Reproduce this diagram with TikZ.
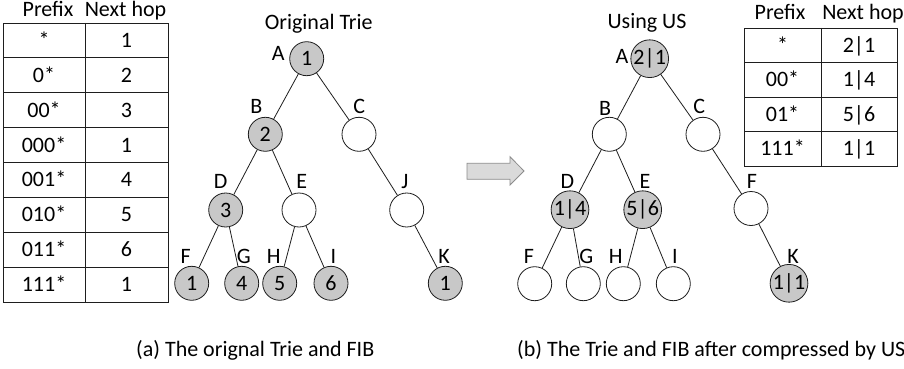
\documentclass[tikz,border=0pt]{standalone}
\usepackage{fontspec}
\setmainfont{Carlito}
\newcommand\myfs{\fontsize{22}{26}\selectfont}
\definecolor{nodegray}{RGB}{200,200,200}
\definecolor{arrowfill}{RGB}{218,218,218}
\definecolor{arrowdraw}{RGB}{140,140,140}
\definecolor{linec}{RGB}{30,30,30}
\tikzset{
  tn/.style={circle, draw=linec, line width=0.8pt, minimum size=34pt, inner sep=0pt, font=\myfs, text=black},
  tfill/.style={tn, fill=nodegray},
  lbl/.style={font=\myfs, inner sep=0pt, text=black},
  txt/.style={font=\myfs, inner sep=0pt, anchor=base, text=black},
  edge/.style={draw=linec, line width=0.8pt},
  tab/.style={draw=linec, line width=0.9pt}
}
\begin{document}
\begin{tikzpicture}[x=1pt,y=-1pt]
\clip (0,0) rectangle (904,369);
\fill[white] (0,0) rectangle (904,369);

% ---------- left table ----------
\node[txt] (lhp) at (48,17) {Prefix};
\node[txt] (lhn) at (125.5,17) {Next hop};
\draw[tab] (3,23) rectangle (168,302);
\draw[tab] (85,23) -- (85,302);
\foreach \k in {1,...,7} { \draw[tab] (3,{23+34.875*\k}) -- (168,{23+34.875*\k}); }
\foreach \p/\h [count=\i] in {*/1, 0*/2, 00*/3, 000*/1, 001*/4, 010*/5, 011*/6, 111*/1} {
  \node[txt] (lp\i) at (44,{23+34.875*(\i-0.5)+7}) {\p};
  \node[txt] (lh\i) at (126.5,{23+34.875*(\i-0.5)+7}) {\h};
}

% ---------- original trie ----------
\node[txt] (t1) at (318.7,30) {Original Trie};
\node[tfill] (A) at (306.7,58.7) {1};
\node[tfill] (B) at (265.3,134.3) {2};
\node[tn] (C) at (359,134.3) {};
\node[tfill] (D) at (225.7,210) {3};
\node[tn] (E) at (299,210) {};
\node[tn] (J) at (406.7,210) {};
\node[tfill] (F) at (191.7,283.3) {1};
\node[tfill] (G) at (241.7,283.3) {4};
\node[tfill] (H) at (279.7,283.3) {5};
\node[tfill] (I) at (331,283.3) {6};
\node[tfill] (K) at (445.3,283.3) {1};
\node[lbl] (lA) at (278.3,53.3) {A};
\node[lbl] (lB) at (256.3,106.7) {B};
\node[lbl] (lC) at (359.3,106.7) {C};
\node[lbl] (lD) at (220.7,181.7) {D};
\node[lbl] (lE) at (301.7,181.7) {E};
\node[lbl] (lJ) at (405,181.7) {J};
\node[lbl] (lF) at (185.7,256.7) {F};
\node[lbl] (lG) at (243.7,256.7) {G};
\node[lbl] (lH) at (273.7,256.7) {H};
\node[lbl] (lI) at (333.3,256.7) {I};
\node[lbl] (lK) at (444,256.7) {K};
\draw[edge] (A) -- (B); \draw[edge] (A) -- (C);
\draw[edge] (B) -- (D); \draw[edge] (B) -- (E);
\draw[edge] (C) -- (J);
\draw[edge] (D) -- (F); \draw[edge] (D) -- (G);
\draw[edge] (E) -- (H); \draw[edge] (E) -- (I);
\draw[edge] (J) -- (K);

% ---------- block arrow ----------
\draw[fill=arrowfill, draw=arrowdraw, line width=0.8pt]
  (467,163.3) -- (510,163.3) -- (510,156.7) -- (524,171) -- (510,185) -- (510,179.3) -- (467,179.3) -- cycle;

% ---------- trie using US ----------
\node[txt] (t2) at (647,29) {Using US};
\node[tfill] (RA) at (649.7,58.7) {2|1};
\node[tn] (RB) at (609.3,134.3) {};
\node[tn] (RC) at (703,134.3) {};
\node[tfill] (RD) at (570,209.7) {1|4};
\node[tfill] (RE) at (642.7,209.7) {5|6};
\node[tn] (RFm) at (751,208.5) {};
\node[tn] (RF) at (534.7,283.7) {};
\node[tn] (RG) at (583.3,283.7) {};
\node[tn] (RH) at (623.3,283.7) {};
\node[tn] (RI) at (673.3,283.7) {};
\node[tfill] (RK) at (789,283.3) {1|1};
\node[lbl] (rlA) at (622,56.7) {A};
\node[lbl] (rlB) at (605,108.3) {B};
\node[lbl] (rlC) at (699.3,106.7) {C};
\node[lbl] (rlD) at (567.3,181.7) {D};
\node[lbl] (rlE) at (645,181.7) {E};
\node[lbl] (rlFm) at (752,181.7) {F};
\node[lbl] (rlF) at (529,256.7) {F};
\node[lbl] (rlG) at (586.3,256.7) {G};
\node[lbl] (rlH) at (615.7,256.7) {H};
\node[lbl] (rlI) at (675,256.7) {I};
\node[lbl] (rlK) at (793,256) {K};
\draw[edge] (RA) -- (RB); \draw[edge] (RA) -- (RC);
\draw[edge] (RB) -- (RD); \draw[edge] (RB) -- (RE);
\draw[edge] (RC) -- (RFm);
\draw[edge] (RD) -- (RF); \draw[edge] (RD) -- (RG);
\draw[edge] (RE) -- (RH); \draw[edge] (RE) -- (RI);
\draw[edge] (RFm) -- (RK);

% ---------- right table ----------
\node[txt] (rhp) at (780,20) {Prefix};
\node[txt] (rhn) at (863,20) {Next hop};
\draw[tab] (744,28) rectangle (897,166);
\draw[tab] (821,28) -- (821,166);
\foreach \k in {1,2,3} { \draw[tab] (744,{28+34.5*\k}) -- (897,{28+34.5*\k}); }
\foreach \p/\h [count=\i] in {*/2|1, 00*/1|4, 01*/5|6, 111*/1|1} {
  \node[txt] (rp\i) at (782.5,{28+34.5*(\i-0.5)+7}) {\p};
  \node[txt] (rh\i) at (859,{28+34.5*(\i-0.5)+7}) {\h};
}

% ---------- captions ----------
\node[txt, anchor=base west] (capa) at (136,356) {(a) The orignal Trie and FIB};
\node[txt, anchor=base west] (capb) at (517,356) {(b) The Trie and FIB after compressed by US};
\end{tikzpicture}
\end{document}
